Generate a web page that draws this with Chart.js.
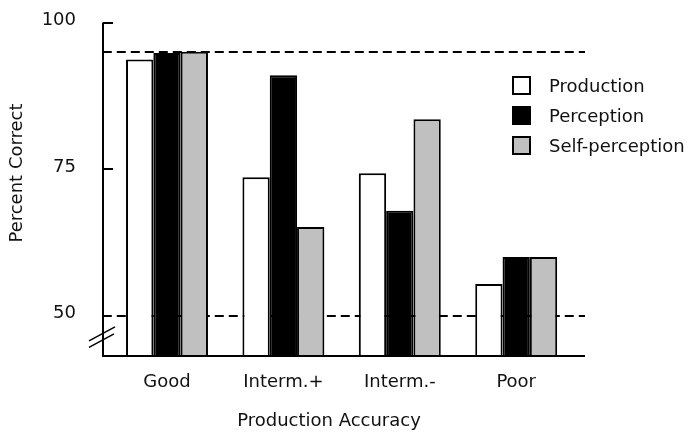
<!DOCTYPE html>
<html>
<head>
  <title>Percent Correct by Production Accuracy</title>
  <script src="https://cdn.jsdelivr.net/npm/chart.js"></script>
  <style>
    html, body { margin: 0; padding: 0; background: #fff; }
  </style>
</head>
<body>
  <canvas id="chart" width="693" height="433"></canvas>

  <script>
    // data
    const categories = ['Good', 'Interm.+', 'Interm.-', 'Poor'];
    const production = [93.7, 73.6, 74.3, 55.4];
    const perception = [94.8, 91.0, 67.9, 60.0];
    const selfPerception = [95.0, 65.1, 83.5, 60.0];
    const yTicks = [50, 75, 100];
    const refLines = [95, 50];
    const yMin = 43.1, yMax = 100;

    const FONT = '"DejaVu Sans", sans-serif';
    const INK = '#111';

    // axis lines, inward ticks, dashed reference lines, axis break, legend, titles
    const decor = {
      id: 'decor',
      beforeDatasetsDraw(chart) {
        const { ctx, chartArea: a, scales: { y } } = chart;
        const x0 = a.left - 6, x1 = a.right + 10.6;
        ctx.save();
        ctx.strokeStyle = '#000';
        ctx.lineWidth = 2;
        ctx.setLineDash([9, 5]);
        refLines.forEach(v => {
          const py = Math.round(y.getPixelForValue(v));
          ctx.beginPath();
          ctx.moveTo(x0, py);
          ctx.lineTo(x1, py);
          ctx.stroke();
        });
        ctx.restore();
      },
      afterDatasetsDraw(chart) {
        const { ctx, chartArea: a, scales: { y } } = chart;
        const x0 = Math.round(a.left - 6), x1 = a.right + 10.6;
        const bottom = Math.round(a.bottom);
        ctx.save();
        ctx.strokeStyle = '#000';
        ctx.lineWidth = 2;
        ctx.beginPath();
        ctx.moveTo(x0, y.getPixelForValue(yMax));
        ctx.lineTo(x0, bottom);
        ctx.lineTo(x1, bottom);
        ctx.stroke();
        [100, 75].forEach(v => {
          const py = Math.round(y.getPixelForValue(v));
          ctx.beginPath();
          ctx.moveTo(x0, py);
          ctx.lineTo(x0 + 10, py);
          ctx.stroke();
        });
        // break mark
        const yb = y.getPixelForValue(46.2);
        ctx.lineWidth = 1.5;
        ctx.beginPath();
        ctx.moveTo(x0 - 14, yb + 3);
        ctx.lineTo(x0 + 12, yb - 11);
        ctx.moveTo(x0 - 14, yb + 9.5);
        ctx.lineTo(x0 + 11, yb - 4);
        ctx.stroke();
        ctx.restore();
      },
      afterDraw(chart) {
        const { ctx } = chart;
        ctx.save();
        ctx.font = '18px ' + FONT;
        ctx.fillStyle = INK;
        ctx.textBaseline = 'middle';
        // legend
        chart.data.datasets.forEach((ds, i) => {
          const cy = 85.5 + 30 * i;
          ctx.fillStyle = ds.backgroundColor;
          ctx.fillRect(512, cy - 9.5, 19, 19);
          ctx.strokeStyle = '#000';
          ctx.lineWidth = 2;
          ctx.strokeRect(513, cy - 8.5, 17, 17);
          ctx.fillStyle = INK;
          ctx.textAlign = 'left';
          ctx.fillText(ds.label, 549, cy + 1.5);
        });
        // axis titles
        ctx.textAlign = 'center';
        ctx.fillText('Production Accuracy', 329, 421);
        ctx.translate(17, 173);
        ctx.rotate(-Math.PI / 2);
        ctx.fillText('Percent Correct', 0, 0);
        ctx.restore();
      }
    };

    new Chart(document.getElementById('chart'), {
      type: 'bar',
      data: {
        labels: categories,
        datasets: [
          { label: 'Production', data: production, backgroundColor: '#ffffff' },
          { label: 'Perception', data: perception, backgroundColor: '#000000' },
          { label: 'Self-perception', data: selfPerception, backgroundColor: '#c0c0c0' }
        ]
      },
      options: {
        responsive: false,
        animation: false,
        layout: { padding: { left: 0, right: 118.6, top: 22.5, bottom: 0 } },
        datasets: {
          bar: {
            borderColor: '#000',
            borderWidth: 2,
            categoryPercentage: 0.704,
            barPercentage: 1.0
          }
        },
        plugins: {
          legend: { display: false },
          tooltip: { enabled: false }
        },
        scales: {
          x: {
            grid: { display: false },
            border: { display: false },
            ticks: { color: INK, font: { family: FONT, size: 18 }, padding: 8 },
            afterFit(scale) { scale.height = 77; }
          },
          y: {
            min: yMin,
            max: yMax,
            grid: { display: true, drawOnChartArea: false, drawTicks: true, tickLength: 30, color: 'rgba(0,0,0,0)' },
            border: { display: false },
            ticks: { color: INK, font: { family: FONT, size: 18 }, padding: 2.8, labelOffset: -2 },
            afterBuildTicks(scale) { scale.ticks = yTicks.map(v => ({ value: v })); },
            afterFit(scale) { scale.width = 108.8; }
          }
        }
      },
      plugins: [decor]
    });
  </script>
</body>
</html>
